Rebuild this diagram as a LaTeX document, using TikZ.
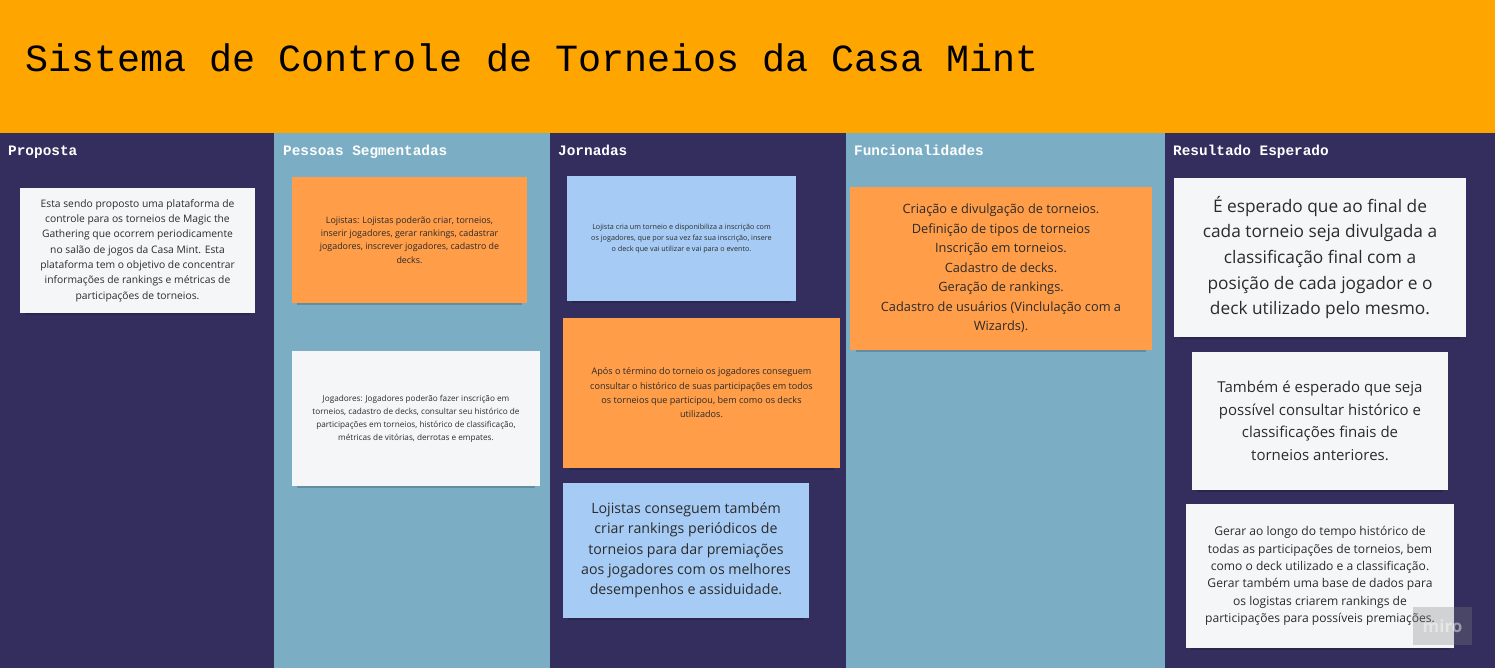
\documentclass[tikz,border=0pt]{standalone}
\usepackage{fontspec}
\setmainfont{Open Sans}
\newfontfamily\monofont{Liberation Mono}
\usetikzlibrary{shadows}
\definecolor{navy}{HTML}{332E5E}
\definecolor{steel}{HTML}{7BAEC4}
\definecolor{banner}{HTML}{FFA500}
\definecolor{notew}{HTML}{F5F6F8}
\definecolor{noteo}{HTML}{FF9D48}
\definecolor{noteb}{HTML}{A6CCF5}
\definecolor{ink}{HTML}{2B2B2B}

\begin{document}
\begin{tikzpicture}[x=1pt,y=-1pt,
  hdr/.style={anchor=base west, text=white, inner sep=0pt,
    font=\monofont\bfseries\fontsize{14.4}{16}\selectfont},
  note/.style={inner sep=0pt, align=center, text=ink,
    general shadow={shadow xshift=0pt, shadow yshift=-5pt,
      shadow scale=0.96, fill=black, opacity=0.18}},
  white/.style={note, fill=notew},
  orange/.style={note, fill=noteo},
  blue/.style={note, fill=noteb}]
  \useasboundingbox (0,0) rectangle (1495,668);
  % banner and columns.
  \fill[banner] (0,0) rectangle (1495,133);
  \fill[navy]  (0,133)    rectangle (274,668);
  \fill[steel] (274,133)  rectangle (550,668);
  \fill[navy]  (550,133)  rectangle (846,668);
  \fill[steel] (846,133)  rectangle (1165,668);
  \fill[navy]  (1165,133) rectangle (1495,668);
  \node[anchor=west, inner sep=0pt, text=black,
    font=\monofont\fontsize{38.4}{40}\selectfont] (title) at (25,58)
    {Sistema de Controle de Torneios da Casa Mint};
  \node[hdr] (hProp) at (8,156)    {Proposta};
  \node[hdr] (hPess) at (283,156)  {Pessoas Segmentadas};
  \node[hdr] (hJorn) at (558,156)  {Jornadas};
  \node[hdr] (hFunc) at (854,156)  {Funcionalidades};
  \node[hdr] (hRes)  at (1173,156) {Resultado Esperado};
  % Proposta.
  \node[white, minimum width=235, minimum height=125,
    font=\fontsize{10.3}{15.3}\selectfont] (prop) at (137.5,250.5)
    {Esta sendo proposto uma plataforma de\\controle para os torneios de Magic the\\Gathering que ocorrem periodicamente\\no salão de jogos da Casa Mint. Esta\\plataforma tem o objetivo de concentrar\\informações de rankings e métricas de\\participações de torneios.};
  % Pessoas Segmentadas.
  \node[orange, minimum width=235, minimum height=126,
    font=\fontsize{8.9}{13.3}\selectfont] (lojistas) at (409.5,240)
    {Lojistas: Lojistas poderão criar, torneios,\\inserir jogadores, gerar rankings, cadastrar\\jogadores, inscrever jogadores, cadastro de\\decks.};
  \node[white, minimum width=248, minimum height=135,
    font=\fontsize{8.2}{13}\selectfont] (jogadores) at (416,418.5)
    {Jogadores: Jogadores poderão fazer inscrição em\\torneios, cadastro de decks, consultar seu histórico de\\participações em torneios, histórico de classificação,\\métricas de vitórias, derrotas e empates.};
  % Jornadas.
  \node[blue, minimum width=229, minimum height=125,
    font=\fontsize{7.2}{11.2}\selectfont] (criaTorneio) at (681.5,238.5)
    {Lojista cria um torneio e disponibiliza a inscrição com\\os jogadores, que por sua vez faz sua inscrição, insere\\o deck que vai utilizar e vai para o evento.};
  \node[orange, minimum width=277, minimum height=150,
    font=\fontsize{9.1}{14.3}\selectfont] (aposTorneio) at (701.5,393)
    {Após o término do torneio os jogadores conseguem\\consultar o histórico de suas participações em todos\\os torneios que participou, bem como os decks\\utilizados.};
  \node[blue, minimum width=246, minimum height=135,
    font=\fontsize{14.2}{20.3}\selectfont] (rankPeriod) at (686,550.5)
    {Lojistas conseguem também\\criar rankings periódicos de\\torneios para dar premiações\\aos jogadores com os melhores\\desempenhos e assiduidade.};
  % Funcionalidades.
  \node[orange, minimum width=302, minimum height=163,
    font=\fontsize{12.8}{19.5}\selectfont] (funcs) at (1001,268.5)
    {Criação e divulgação de torneios.\\Definição de tipos de torneios\\Inscrição em torneios.\\Cadastro de decks.\\Geração de rankings.\\Cadastro de usuários (Vinclulação com a\\Wizards).};
  % Resultado Esperado.
  \node[white, minimum width=292, minimum height=159,
    font=\fontsize{17.3}{25.7}\selectfont] (classFinal) at (1320,257.5)
    {É esperado que ao final de\\cada torneio seja divulgada a\\classificação final com a\\posição de cada jogador e o\\deck utilizado pelo mesmo.};
  \node[white, minimum width=256, minimum height=138,
    font=\fontsize{15}{22.6}\selectfont] (consultaHist) at (1320,421)
    {Também é esperado que seja\\possível consultar histórico e\\classificações finais de\\torneios anteriores.};
  \node[white, minimum width=268, minimum height=144,
    font=\fontsize{12.1}{17.4}\selectfont] (baseDados) at (1320,576)
    {Gerar ao longo do tempo histórico de\\todas as participações de torneios, bem\\como o deck utilizado e a classificação.\\Gerar também uma base de dados para\\os logistas criarem rankings de\\participações para possíveis premiações.};
  \node[fill=gray, fill opacity=0.3, text opacity=0.45, text=white,
    minimum width=59, minimum height=38, inner sep=0pt,
    font=\bfseries\fontsize{17}{18}\selectfont] (miro) at (1442.5,626) {miro};
\end{tikzpicture}
\end{document}
